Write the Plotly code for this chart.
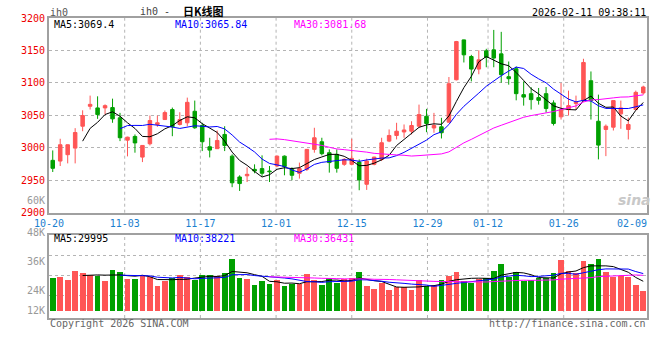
import plotly.graph_objects as go
import pandas as pd

# ---------------- data ----------------
opens = [2980.5, 2979.4, 2989.2, 2999.4, 3033.2, 3064.0, 3061.5, 3061.5, 3062.0, 3046.2,
         3011.7, 3017.4, 2985.5, 3006.1, 3035.9, 3043.5, 3058.9, 3035.9, 3038.5, 3056.3,
         3034.3, 3001.5, 2998.5, 3020.5, 2987.0, 2954.8, 2956.6, 2966.6, 2967.7, 2964.0,
         2971.7, 2987.0, 2966.6, 2960.5, 2966.6, 2997.4, 3009.2, 2992.3, 2989.7, 2974.3,
         2974.3, 2977.8, 2943.5, 2974.3, 2982.0, 3010.2, 3018.9, 3024.3, 3025.5, 3033.2,
         3048.6, 3030.5, 3032.3, 3039.4, 3105.0, 3166.6, 3140.9, 3121.5, 3149.7, 3151.2,
         3145.0, 3109.7, 3122.0, 3082.0, 3083.5, 3077.4, 3083.5, 3069.2, 3047.7, 3058.9,
         3068.2, 3072.8, 3103.5, 3040.9, 3028.2, 3031.7, 3052.3, 3028.2, 3058.9, 3084.6]
highs = [2995.8, 3013.8, 3005.0, 3030.2, 3057.8, 3080.5, 3079.4, 3067.0, 3075.8, 3053.8,
         3017.0, 3020.5, 3004.0, 3049.7, 3049.7, 3057.4, 3062.0, 3054.8, 3077.4, 3072.8,
         3038.5, 3015.4, 3026.6, 3033.2, 2989.7, 2957.4, 2969.7, 2974.3, 2988.2, 2971.7,
         2988.0, 2988.0, 2969.7, 2977.0, 2998.0, 3030.8, 3015.4, 2997.4, 2997.4, 2984.0,
         3013.8, 2982.0, 2983.1, 2986.0, 3015.4, 3028.2, 3038.5, 3035.9, 3040.9, 3066.6,
         3060.0, 3053.8, 3046.2, 3109.2, 3165.0, 3167.0, 3143.5, 3150.5, 3152.8, 3182.0,
         3179.0, 3133.2, 3125.5, 3102.5, 3093.5, 3092.3, 3093.8, 3073.2, 3100.0, 3088.2,
         3080.5, 3137.4, 3117.8, 3082.0, 3035.9, 3073.0, 3072.8, 3046.6, 3088.2, 3095.8]
lows = [2962.5, 2971.7, 2975.8, 2975.8, 3025.5, 3059.0, 3044.6, 3051.2, 3038.5, 3010.2,
        2986.6, 2992.3, 2977.8, 3003.5, 3032.3, 3043.0, 3017.8, 3034.3, 3033.2, 3029.2,
        2994.8, 2985.0, 2998.0, 2994.8, 2939.0, 2933.2, 2947.0, 2960.5, 2955.8, 2947.0,
        2970.0, 2957.4, 2949.7, 2952.3, 2964.0, 2992.3, 2988.2, 2961.5, 2961.5, 2972.0,
        2972.8, 2934.3, 2934.8, 2972.8, 2979.4, 3008.6, 3012.8, 3015.4, 3020.5, 3032.8,
        3024.0, 3023.1, 3014.3, 3039.0, 3104.0, 3131.7, 3102.5, 3113.5, 3124.3, 3124.3,
        3100.5, 3097.4, 3073.2, 3065.0, 3059.0, 3066.6, 3054.3, 3034.3, 3043.5, 3049.7,
        3059.0, 3071.2, 3043.5, 2982.0, 2987.0, 3026.6, 3029.2, 3012.8, 3058.0, 3082.0]
closes = [2968.2, 3004.6, 3004.6, 3023.5, 3049.7, 3067.0, 3051.2, 3065.0, 3044.6, 3015.4,
          3016.3, 3007.4, 3003.5, 3042.0, 3038.5, 3054.3, 3032.3, 3043.5, 3070.1, 3030.8,
          3009.2, 2996.3, 3011.2, 3003.5, 2945.8, 2944.6, 2958.9, 2964.0, 2960.5, 2963.0,
          2987.0, 2970.8, 2957.4, 2967.7, 2997.4, 3015.4, 2990.8, 2977.0, 2968.2, 2982.0,
          2983.5, 2950.2, 2979.4, 2985.5, 3007.7, 3018.9, 3025.5, 3027.4, 3034.3, 3051.2,
          3037.4, 3034.3, 3023.1, 3098.9, 3164.0, 3143.5, 3121.5, 3135.8, 3139.7, 3138.5,
          3112.8, 3106.6, 3083.5, 3078.2, 3074.3, 3073.2, 3060.5, 3037.4, 3058.9, 3065.0,
          3070.2, 3131.7, 3072.8, 3004.0, 3033.2, 3072.8, 3061.5, 3035.9, 3085.5, 3093.8]
volumes = [33900, 34900, 31500, 41000, 39000, 36600, 35200, 30400, 41700, 39700,
           32500, 32500, 35200, 34200, 25300, 30400, 33900, 36600, 34900, 31500,
           36600, 36600, 35900, 39000, 53000, 33900, 32500, 26300, 30400, 27400,
           31500, 25300, 27000, 27000, 37600, 31500, 26300, 33200, 28700, 32500,
           33900, 39700, 25300, 22200, 28700, 21200, 24000, 24000, 21200, 31500,
           25300, 26300, 31500, 35900, 39700, 30800, 28100, 32200, 33200, 40700,
           47900, 34900, 39700, 30400, 31500, 33200, 33500, 39000, 52000, 40700,
           38300, 50900, 47900, 53000, 39700, 34500, 35600, 34200, 26300, 20200]

x_tick_index = [0, 10, 20, 30, 40, 50, 58, 68, 78]
x_tick_text = ["10-20", "11-03", "11-17", "12-01", "12-15", "12-29", "01-12", "01-26", "02-09"]
price_ticks = [2900, 2950, 3000, 3050, 3100, 3150, 3200]
vol_tick_text = ["60K", "48K", "36K", "24K", "12K"]
ma_windows = [5, 10, 30]
main_ma_text = ["MA5:3069.4", "MA10:3065.84", "MA30:3081.68"]
vol_ma_text = ["MA5:29995", "MA10:38221", "MA30:36431"]

# ---------------- style ----------------
RED = "#ff5555"
GREEN = "#00a000"
MA_COLORS = ["#000000", "#0000ff", "#ff00ff"]
GRID = "#b4b4b4"
FRAME = "#a0a0a0"
MONO = "DejaVu Sans Mono"

W, H = 660, 360
L, R, T, B = 49, 11, 18, 42
PW, PH = W - L - R, H - T - B


def px_x(px):
    return (px - L) / PW


def px_y(py):
    return (H - B - py) / PH


main_bottom = px_y(212.7)
vol_top = px_y(235)

idx = list(range(len(closes)))
n = len(idx)
df = pd.DataFrame({"c": closes, "v": volumes})

fig = go.Figure()

fig.add_trace(go.Candlestick(
    x=idx, open=opens, high=highs, low=lows, close=closes,
    increasing=dict(line=dict(color=RED, width=1), fillcolor=RED),
    decreasing=dict(line=dict(color=GREEN, width=1), fillcolor=GREEN),
    whiskerwidth=0, xaxis="x", yaxis="y", showlegend=False, hoverinfo="skip"))

for w, col in zip(ma_windows, MA_COLORS):
    fig.add_trace(go.Scatter(x=idx, y=df["c"].rolling(w).mean(), mode="lines",
                             line=dict(color=col, width=1), xaxis="x", yaxis="y",
                             showlegend=False, hoverinfo="skip"))

bar_colors = [RED if c >= o else GREEN for o, c in zip(opens, closes)]
fig.add_trace(go.Bar(x=idx, y=volumes, marker=dict(color=bar_colors, line=dict(width=0)),
                     width=0.77, xaxis="x2", yaxis="y2", showlegend=False, hoverinfo="skip"))

for w, col in zip(ma_windows, MA_COLORS):
    fig.add_trace(go.Scatter(x=idx, y=df["v"].rolling(w).mean(), mode="lines",
                             line=dict(color=col, width=1), xaxis="x2", yaxis="y2",
                             showlegend=False, hoverinfo="skip"))

# Sina places its date grid at k*width/(n-1) while bars use width/n
grid_pos = [k * n / (n - 1) - 0.5 for k in x_tick_index]
label_pos = [min(p, n - 2.5) for p in grid_pos]

shapes = []
for p in grid_pos[1:-1]:
    for xr, yr in (("x", "y domain"), ("x2", "y2 domain")):
        shapes.append(dict(type="line", xref=xr, yref=yr, x0=p, x1=p, y0=0, y1=1,
                           line=dict(color=GRID, width=1, dash="dot"), layer="below"))

# volume grid at pixel rows 255 / 275 / 295
vol_scale = 1025.0  # volume units per pixel
vol_base_px = 310.7
vol_grid = [(vol_base_px - py) * vol_scale for py in (255, 275, 295)]
vol_range = [(vol_base_px - 318) * vol_scale, (vol_base_px - 235) * vol_scale]

axis_common = dict(showline=True, mirror=True, linecolor=FRAME, linewidth=2,
                   zeroline=False, ticks="", fixedrange=True)

fig.update_layout(
    width=W, height=H, margin=dict(l=L, r=R, t=T, b=B),
    paper_bgcolor="white", plot_bgcolor="white",
    boxgap=0.33, bargap=0, hovermode=False,
    font=dict(family=MONO, size=10, color="#000"),
    xaxis=dict(domain=[0, 1], range=[-0.5, n - 0.5], anchor="y",
               tickmode="array", tickvals=label_pos, ticktext=x_tick_text,
               tickfont=dict(family=MONO, size=10, color="#1a7fd0"),
               showgrid=False, rangeslider=dict(visible=False), **axis_common),
    yaxis=dict(domain=[main_bottom, 1], range=[2899.6, 3200.4], anchor="x",
               tickmode="array", tickvals=price_ticks, ticktext=[str(t) for t in price_ticks],
               tickfont=dict(family=MONO, size=10, color="#ee0000"),
               showgrid=True, gridcolor=GRID, griddash="dot", gridwidth=1, **axis_common),
    xaxis2=dict(domain=[0, 1], range=[-0.5, n - 0.5], anchor="y2", matches="x",
                showticklabels=False, showgrid=False, **axis_common),
    yaxis2=dict(domain=[0, vol_top], range=vol_range, anchor="x2",
                tickmode="array", tickvals=vol_grid, showticklabels=False,
                showgrid=True, gridcolor=GRID, griddash="dot", gridwidth=1, **axis_common),
    shapes=shapes,
)

ann = []


def text(px, py, s, anchor="left", color="#000", size=10, family=MONO, **kw):
    ann.append(dict(x=px_x(px), y=px_y(py), xref="paper", yref="paper", text=s,
                    showarrow=False, xanchor=anchor, yanchor="middle",
                    font=dict(family=family, size=size, color=color), borderpad=0, **kw))


text(49, 12.5, "ih0", color="#555")
text(139, 12.0, "ih0 -", color="#444")
text(182, 10.5, "<b>日K线图</b>", size=11, family="Noto Sans CJK SC")
text(649, 12.5, "2026-02-11 09:38:11", anchor="right")
for s, col, px in zip(main_ma_text, MA_COLORS, (53, 174, 294)):
    text(px, 24.5, s, color=col)
for s, col, px in zip(vol_ma_text, MA_COLORS, (53, 174, 294)):
    text(px, 238.5, s, color=col)
for s, py in zip(vol_tick_text, (200, 232, 261, 290, 310)):
    text(46, py, s, anchor="right", color="#999")
text(49, 323.5, "Copyright 2026 SINA.COM", color="#666")
text(649, 323.5, "http://finance.sina.com.cn", anchor="right", color="#666")
text(636, 200, "<b><i>sina</i></b>", anchor="center", color="#c8c8c8", size=14, family="DejaVu Sans")

fig.update_layout(annotations=ann)
fig.write_html("out.html", config={"displayModeBar": False},
               post_script="document.body.style.margin='0';document.body.style.padding='0';"
                           "document.documentElement.style.overflow='hidden';")
